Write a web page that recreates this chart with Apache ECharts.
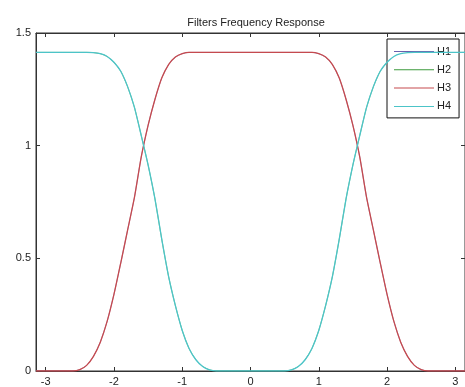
<!DOCTYPE html>
<html>
<head>
<meta charset="utf-8">
<script src="https://cdn.jsdelivr.net/npm/echarts@6/dist/echarts.min.js"></script>
<style>
html,body{margin:0;padding:0;background:#fff;}
#c{width:465px;height:387px;}
</style>
</head>
<body>
<div id="c"></div>
<script>
var title = 'Filters Frequency Response';
var seriesNames = ['H1', 'H2', 'H3', 'H4'];
var xTicks = [-3, -2, -1, 0, 1, 2, 3];
var yTicks = [0, 0.5, 1, 1.5];

var xs = [-3.1416, -3.0, -2.9, -2.8, -2.7, -2.6, -2.5, -2.4, -2.3, -2.2, -2.1, -2.0, -1.9, -1.8, -1.7, -1.6, -1.5, -1.4, -1.3, -1.2, -1.1, -1.0, -0.9, -0.8, -0.7, -0.6, -0.5, -0.4, -0.2,
  0,
  0.2, 0.4, 0.5, 0.6, 0.7, 0.8, 0.9, 1.0, 1.1, 1.2, 1.3, 1.4, 1.5, 1.6, 1.7, 1.8, 1.9, 2.0, 2.1, 2.2, 2.3, 2.4, 2.5, 2.6, 2.7, 2.8, 2.9, 3.0, 3.1416];

var h3 = [0, 0, 0, 0, 0, 0, 0.006, 0.025, 0.065, 0.128, 0.22, 0.34, 0.48, 0.625, 0.77, 0.95, 1.09, 1.205, 1.30, 1.36, 1.393, 1.408, 1.414, 1.414, 1.414, 1.414, 1.414, 1.414, 1.414,
  1.414,
  1.414, 1.414, 1.414, 1.414, 1.414, 1.414, 1.414, 1.408, 1.393, 1.36, 1.30, 1.205, 1.09, 0.95, 0.77, 0.625, 0.48, 0.34, 0.22, 0.128, 0.065, 0.025, 0.006, 0, 0, 0, 0, 0, 0];

var h4 = [1.414, 1.414, 1.414, 1.414, 1.414, 1.414, 1.414, 1.414, 1.413, 1.408, 1.396, 1.37, 1.33, 1.262, 1.17, 1.045, 0.915, 0.765, 0.585, 0.42, 0.29, 0.18, 0.10, 0.05, 0.02, 0.005, 0, 0, 0,
  0,
  0, 0, 0, 0.005, 0.02, 0.05, 0.10, 0.18, 0.29, 0.42, 0.585, 0.765, 0.915, 1.045, 1.17, 1.262, 1.33, 1.37, 1.396, 1.408, 1.413, 1.414, 1.414, 1.414, 1.414, 1.414, 1.414, 1.414, 1.414];

var h1 = h3;
var h2 = h4;

var colors = ['#6b5fae', '#3d9a3d', '#c54a4e', '#4cc4c8'];
var widths = [0.6, 0.6, 1.3, 1.3];
var values = [h1, h2, h3, h4];

function pairs(arr) {
  return xs.map(function (x, i) { return [x, arr[i]]; });
}

var chart = echarts.init(document.getElementById('c'), null, {renderer: 'canvas'});
var font = 'Liberation Sans, Arial, sans-serif';
var axisCol = '#333';

var series = seriesNames.map(function (n, i) {
  return {
    name: n, type: 'line', data: pairs(values[i]), showSymbol: false, symbol: 'none',
    smooth: 0.2, lineStyle: {width: widths[i], color: colors[i]}, itemStyle: {color: colors[i]},
    xAxisIndex: 0, yAxisIndex: 0, animation: false, z: 2 + i
  };
});

chart.setOption({
  animation: false,
  backgroundColor: '#fff',
  color: colors,
  title: {
    text: title, left: 251, top: 12, textAlign: 'center',
    textStyle: {fontFamily: font, fontSize: 11, fontWeight: 'normal', color: '#222'}
  },
  grid: {left: 36, top: 33, width: 430, height: 338, containLabel: false, show: true, borderColor: axisCol, borderWidth: 1},
  legend: {
    orient: 'vertical', left: 387, top: 39, padding: [7, 8, 6, 7],
    itemWidth: 40, itemHeight: 1, itemGap: 7.3, icon: 'rect',
    backgroundColor: '#fff', borderColor: '#111', borderWidth: 1, borderRadius: 0,
    textStyle: {fontFamily: font, fontSize: 11, color: '#222', padding: [0, 0, 0, -2]},
    data: seriesNames
  },
  xAxis: [{
    type: 'value', min: -3.1416, max: 3.1416, position: 'bottom',
    axisLine: {show: true, onZero: false, lineStyle: {color: axisCol, width: 1}},
    axisTick: {show: true, inside: true, length: 4, customValues: xTicks, lineStyle: {color: axisCol}},
    axisLabel: {show: true, customValues: xTicks, margin: 5, fontFamily: font, fontSize: 11, color: '#222'},
    splitLine: {show: false}
  }, {
    type: 'value', min: -3.1416, max: 3.1416, position: 'top',
    axisLine: {show: true, onZero: false, lineStyle: {color: axisCol, width: 1}},
    axisTick: {show: true, inside: true, length: 4, customValues: xTicks, lineStyle: {color: axisCol}},
    axisLabel: {show: false}, splitLine: {show: false}
  }],
  yAxis: [{
    type: 'value', min: 0, max: 1.5, interval: 0.5, position: 'left',
    axisLine: {show: true, onZero: false, lineStyle: {color: axisCol, width: 1}},
    axisTick: {show: true, inside: true, length: 4, lineStyle: {color: axisCol}},
    axisLabel: {show: true, margin: 5, fontFamily: font, fontSize: 11, color: '#222',
      formatter: function (v) { return yTicks.indexOf(v) >= 0 ? String(v) : ''; }},
    splitLine: {show: false}
  }, {
    type: 'value', min: 0, max: 1.5, interval: 0.5, position: 'right',
    axisLine: {show: true, onZero: false, lineStyle: {color: axisCol, width: 1}},
    axisTick: {show: true, inside: true, length: 4, lineStyle: {color: axisCol}},
    axisLabel: {show: false}, splitLine: {show: false}
  }],
  series: series
});
</script>
</body>
</html>
